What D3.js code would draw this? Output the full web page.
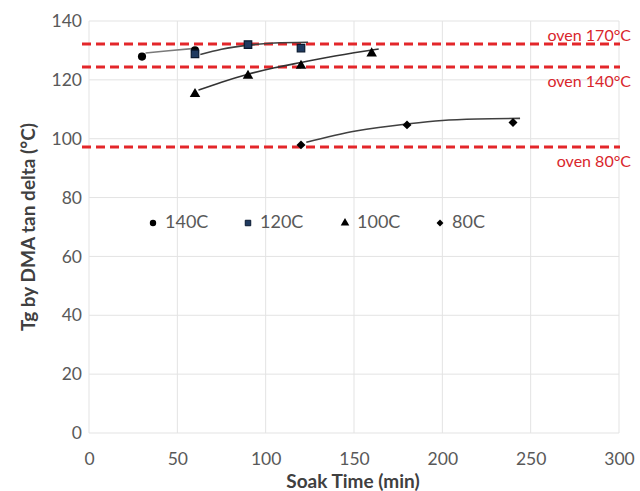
<!DOCTYPE html>
<html><head><meta charset="utf-8">
<script src="https://cdn.jsdelivr.net/npm/d3@7"></script>
<style>body{margin:0;background:#fff}svg{display:block}text{font-family:Lato,"Noto Sans",sans-serif}</style>
</head><body>
<svg id="c" width="640" height="491"></svg>
<script>
// ---- data ----
const xTicks = [0,50,100,150,200,250,300];
const yTicks = [0,20,40,60,80,100,120,140];
const seriesNames = ["140C","120C","100C","80C"];
const s140 = [[30,127.9],[60,130.0]];
const s120 = [[60,128.8],[90,132.0],[120,130.8]];
const s100 = [[60,115.2],[90,121.4],[120,124.8],[160,129.0]];
const s80  = [[120,97.9],[180,104.7],[240,105.5]];
// trendlines
const t140 = [[32,129.1],[45,129.9],[60,130.7]];
const t120 = [[63,128.6],[75,130.4],[90,131.8],[105,132.5],[124,132.8]];
const t100 = [[62,116.5],[75,119.2],[90,121.9],[105,124.1],[120,125.9],[140,128.2],[164,130.5]];
const t80  = [[123,98.8],[151,102.6],[181,105.1],[200,106.2],[220,106.7],[244,106.9]];
const ovenLevels = [132.2,124.4,97.2];
const ovenLabels = ["oven 170°C","oven 140°C","oven 80°C"];

const svg = d3.select("#c");
const x = d3.scaleLinear().domain([0,300]).range([89,619]);
const y = d3.scaleLinear().domain([0,140]).range([433,21]);

// grid
svg.append("g").selectAll("line").data(yTicks).join("line")
  .attr("x1",x(0)).attr("x2",x(300)).attr("y1",d=>y(d)).attr("y2",d=>y(d))
  .attr("stroke","#e3e3e3").attr("stroke-width",1);
svg.append("g").selectAll("line").data(xTicks).join("line")
  .attr("y1",y(0)).attr("y2",y(140)).attr("x1",d=>x(d)).attr("x2",d=>x(d))
  .attr("stroke","#e3e3e3").attr("stroke-width",1);

// axes (labels only)
const gx = svg.append("g").attr("transform",`translate(0,${y(0)})`)
  .call(d3.axisBottom(x).tickValues(xTicks).tickSize(0).tickPadding(20));
const gy = svg.append("g").attr("transform",`translate(${x(0)},0)`)
  .call(d3.axisLeft(y).tickValues(yTicks).tickSize(0).tickPadding(7));
[gx,gy].forEach(g=>{g.select(".domain").remove();
  g.selectAll("text").attr("font-family","Lato").attr("font-size",17.5).attr("fill","#595959");});

// oven lines
svg.append("g").selectAll("line").data(ovenLevels).join("line")
  .attr("x1",x(0)-7).attr("x2",x(300)+1).attr("y1",d=>y(d)).attr("y2",d=>y(d))
  .attr("stroke","#e3262a").attr("stroke-width",3).attr("stroke-dasharray","9,5");
const labOff = [-7, 16, 16];
svg.append("g").selectAll("text").data(ovenLevels).join("text")
  .attr("x",631).attr("y",(d,i)=>y(d)+labOff[i]).attr("text-anchor","end")
  .attr("dominant-baseline","middle").attr("font-size",16).attr("fill","#d9262c")
  .text((d,i)=>ovenLabels[i]);

// trendlines
const line = d3.line().x(d=>x(d[0])).y(d=>y(d[1])).curve(d3.curveMonotoneX);
const trends = [t140,t120,t100,t80];
const tColors = ["#7a7a7a","#404040","#333","#404040"];
svg.append("g").selectAll("path").data(trends).join("path")
  .attr("d",line).attr("fill","none").attr("stroke",(d,i)=>tColors[i]).attr("stroke-width",1.6);

// markers
const shapes = [d3.symbolCircle,d3.symbolSquare,d3.symbolTriangle,d3.symbolSquare];
const rots = [0,0,0,45];
const sizes = [52,56,48,40];
const fills = ["#000","#1f3a60","#000","#000"];
const allSeries = [s140,s120,s100,s80];
allSeries.forEach((s,i)=>{
  svg.append("g").selectAll("path").data(s).join("path")
    .attr("transform",d=>`translate(${x(d[0])},${y(d[1])}) rotate(${rots[i]})`)
    .attr("d",d3.symbol().type(shapes[i]).size(sizes[i]))
    .attr("fill",fills[i]).attr("stroke",i===1?"#0a1a30":"none").attr("stroke-width",1.2);
});

// legend
const legX = [153,248,345,440];
const legY = 223;
const lg = svg.append("g");
seriesNames.forEach((n,i)=>{
  lg.append("path").attr("transform",`translate(${legX[i]},${legY}) rotate(${rots[i]})`)
    .attr("d",d3.symbol().type(shapes[i]).size(i===1?30:(i===3?24:32))).attr("fill",fills[i])
    .attr("stroke",i===1?"#0a1a30":"none");
  lg.append("text").attr("x",legX[i]+12).attr("y",legY).attr("dominant-baseline","middle")
    .attr("font-size",18).attr("fill","#595959").text(n);
});

// axis titles
svg.append("text").attr("x",353).attr("y",483).attr("text-anchor","middle")
  .attr("dominant-baseline","middle").attr("font-size",19).attr("font-weight","bold")
  .attr("fill","#404040").text("Soak Time (min)");
svg.append("text").attr("transform",`translate(30,${(y(0)+y(140))/2}) rotate(-90)`)
  .attr("text-anchor","middle").attr("dominant-baseline","middle").attr("font-size",19)
  .attr("font-weight","bold").attr("fill","#404040").text("Tg by DMA tan delta (°C)");
</script>
</body></html>
